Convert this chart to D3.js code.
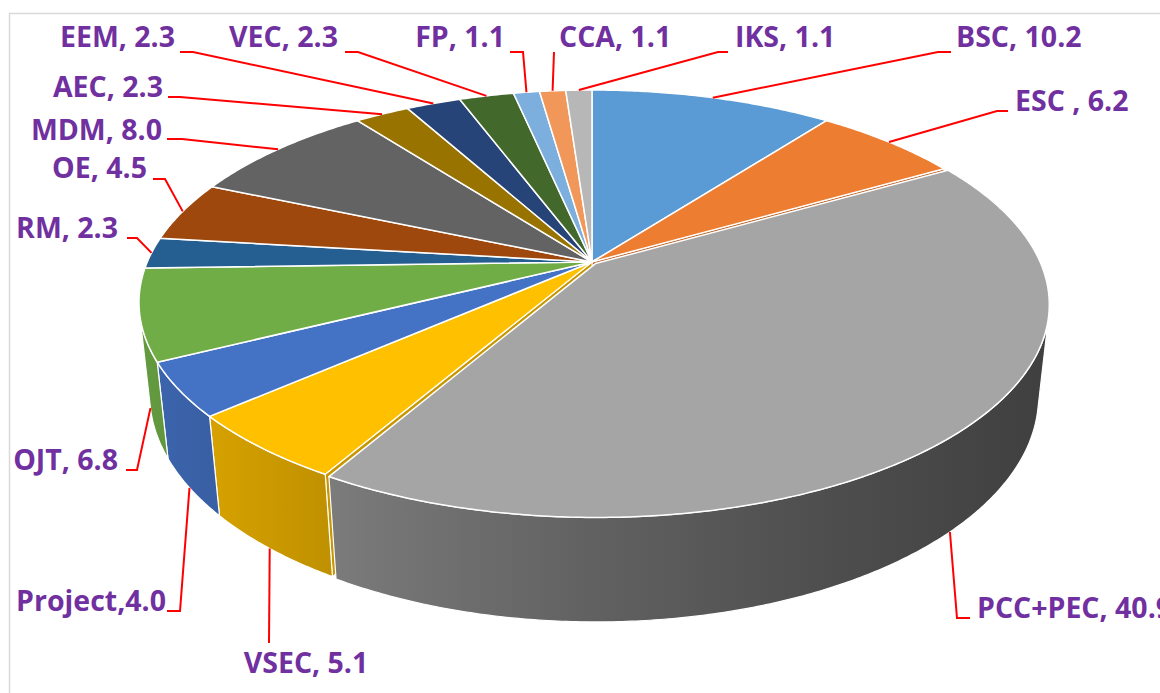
<!DOCTYPE html>
<html>
<head>
<meta charset="utf-8">
<script src="https://cdn.jsdelivr.net/npm/d3@7"></script>
<style>
  body { margin: 0; background: #fff; }
  svg { display: block; }
</style>
</head>
<body>
<div id="chart"></div>
<script>
// Data (clockwise from 12 o'clock)
const categories = ["BSC", "ESC", "PCC+PEC", "VSEC", "Project", "OJT", "RM", "OE", "MDM", "AEC", "EEM", "VEC", "FP", "CCA", "IKS"];
const values = [10.2, 6.2, 40.9, 5.1, 4.0, 6.8, 2.3, 4.5, 8.0, 2.3, 2.3, 2.3, 1.1, 1.1, 1.1];
const labels = ["BSC, 10.2", "ESC , 6.2", "PCC+PEC, 40.9", "VSEC, 5.1", "Project,4.0", "OJT, 6.8", "RM, 2.3",
  "OE, 4.5", "MDM, 8.0", "AEC, 2.3", "EEM, 2.3", "VEC, 2.3", "FP, 1.1", "CCA, 1.1", "IKS, 1.1"];
const colors = ["#5B9BD5", "#ED7D31", "#A5A5A5", "#FFC000", "#4472C4", "#70AD47", "#255E91", "#9E480E",
  "#636363", "#997300", "#264478", "#43682B", "#7CAFDD", "#F1975A", "#B7B7B7"];

// where each data label sits: text x, baseline y, anchor, leader end x/y, elbow length
const labelLayout = [
  { x: 956, y: 47, anchor: "start", lx: 951, ly: 52, elbow: -13 },
  { x: 1015, y: 111, anchor: "start", lx: 1008, ly: 111, elbow: -11 },
  { x: 977, y: 618, anchor: "start", lx: 970, ly: 618, elbow: -13 },
  { x: 306, y: 673, anchor: "middle", lx: 269, ly: 643, elbow: 0 },
  { x: 166, y: 611, anchor: "end", lx: 167, ly: 611, elbow: 13 },
  { x: 118, y: 470, anchor: "end", lx: 126, ly: 470, elbow: 11 },
  { x: 118, y: 238, anchor: "end", lx: 127, ly: 238, elbow: 10 },
  { x: 147, y: 178, anchor: "end", lx: 153, ly: 179, elbow: 12 },
  { x: 162, y: 140, anchor: "end", lx: 167, ly: 139, elbow: 15 },
  { x: 163, y: 97, anchor: "end", lx: 168, ly: 97, elbow: 12 },
  { x: 175, y: 47, anchor: "end", lx: 180, ly: 52, elbow: 13 },
  { x: 338, y: 47, anchor: "end", lx: 345, ly: 52, elbow: 13 },
  { x: 505, y: 47, anchor: "end", lx: 510, ly: 52, elbow: 13 },
  { x: 559, y: 47, anchor: "start", lx: 554, ly: 52, elbow: 0 },
  { x: 735, y: 47, anchor: "start", lx: 728, ly: 52, elbow: -10 }
];

const width = 1160, height = 693;

// 3D disc seen through a perspective camera
const cx = 592, cy = 262;          // apex of the pie on screen
const A = 444.7;                   // horizontal radius at the centre depth
const sinT = 0.4605, cosT = Math.sqrt(1 - sinT * sinT);  // camera tilt
const r = 0.2147;                  // radius / camera distance
const B = A * sinT, p = r * cosT;
const hR = 0.235;                  // thickness (in radii)
const explodeIdx = 2, explodeDist = 0.011;

// X,Z on the disc (in radii), hh = drop below the top face
function P(X, Z, hh) {
  const w = 1 + p * Z + r * hh * sinT;
  return [cx + A * X / w, cy + (-B * Z + A * hh * cosT) / w];
}
function rim(a, hh, off) {
  return P(Math.sin(a) + off[0], Math.cos(a) + off[1], hh);
}
function arcPts(s, e, hh, off) {
  const n = Math.max(2, Math.ceil((e - s) / (Math.PI / 360)));
  const pts = [];
  for (let i = 0; i <= n; i++) pts.push(rim(s + (e - s) * i / n, hh, off));
  return pts;
}

const svg = d3.select("#chart").append("svg")
  .attr("width", width)
  .attr("height", height);

// chart area border
svg.append("rect")
  .attr("x", 9.5).attr("y", 13.5)
  .attr("width", 1300).attr("height", 900)
  .attr("fill", "#fff")
  .attr("stroke", "#d9d9d9")
  .attr("stroke-width", 1.5);

const data = categories.map((c, i) => ({ name: c, value: values[i], label: labels[i], color: colors[i], pos: labelLayout[i] }));
const arcs = d3.pie().sort(null).value(d => d.value)(data);
arcs.forEach((d, i) => {
  const m = (d.startAngle + d.endAngle) / 2;
  d.mid = m;
  d.off = i === explodeIdx ? [explodeDist * Math.sin(m), explodeDist * Math.cos(m)] : [0, 0];
});

// side shading gradients
const defs = svg.append("defs");
arcs.forEach((d, i) => {
  const g = defs.append("linearGradient")
    .attr("id", "side" + i)
    .attr("gradientUnits", "userSpaceOnUse")
    .attr("x1", cx - A).attr("x2", cx + A)
    .attr("y1", 0).attr("y2", 0);
  [0, 0.25, 0.5, 0.75, 1].forEach(t => {
    g.append("stop").attr("offset", t).attr("stop-color", d3.color(d.data.color).darker(0.34 + 2.3 * t));
  });
});

const line = d3.line();
const vis0 = Math.acos(-r / cosT), vis1 = 2 * Math.PI - vis0;

function drawWall(g, d, i) {
  const s = Math.max(d.startAngle, vis0), e = Math.min(d.endAngle, vis1);
  if (e <= s) return;
  const pts = arcPts(s, e, 0, d.off).concat(arcPts(s, e, hR, d.off).reverse());
  g.append("path")
    .attr("d", line(pts) + "Z")
    .attr("fill", "url(#side" + i + ")")
    .attr("stroke", "#fff")
    .attr("stroke-width", 1.2)
    .attr("stroke-linejoin", "round");
}
function drawTopFace(g, d) {
  const pts = [P(d.off[0], d.off[1], 0)].concat(arcPts(d.startAngle, d.endAngle, 0, d.off));
  g.append("path")
    .attr("d", line(pts) + "Z")
    .attr("fill", d.data.color)
    .attr("stroke", "#fff")
    .attr("stroke-width", 1.5)
    .attr("stroke-linejoin", "round");
}
function drawCutFace(g, d, a) {
  const o = d.off;
  const pts = [P(o[0], o[1], 0), rim(a, 0, o), rim(a, hR, o), P(o[0], o[1], hR)];
  g.append("path")
    .attr("d", line(pts) + "Z")
    .attr("fill", d3.color(d.data.color).darker(0.7))
    .attr("stroke", "#fff")
    .attr("stroke-width", 1);
}

const body = svg.append("g");
// faces of the neighbours that show through the gap of the exploded slice
const ex = arcs[explodeIdx];
drawCutFace(body, arcs[explodeIdx - 1], ex.startAngle);
drawCutFace(body, arcs[explodeIdx + 1], ex.endAngle);
arcs.forEach((d, i) => { if (i !== explodeIdx) drawWall(body, d, i); });
arcs.forEach((d, i) => { if (i !== explodeIdx) drawTopFace(body, d); });
drawWall(body, ex, explodeIdx);
drawTopFace(body, ex);

// leader lines and labels
const lab = svg.append("g");
arcs.forEach(d => {
  const m = d.mid;
  const anchorPt = (m > vis0 && m < vis1) ? rim(m, hR, d.off) : rim(m, 0, d.off);
  const L = d.data.pos;
  lab.append("path")
    .attr("d", line([anchorPt, [L.lx + L.elbow, L.ly], [L.lx, L.ly]]))
    .attr("fill", "none")
    .attr("stroke", "#ff0000")
    .attr("stroke-width", 2);
  lab.append("text")
    .attr("x", L.x)
    .attr("y", L.y)
    .attr("text-anchor", L.anchor)
    .attr("font-family", "'Open Sans', sans-serif")
    .attr("font-weight", "bold")
    .attr("font-size", 28.5)
    .attr("fill", "#7030A0")
    .text(d.data.label);
});
</script>
</body>
</html>
